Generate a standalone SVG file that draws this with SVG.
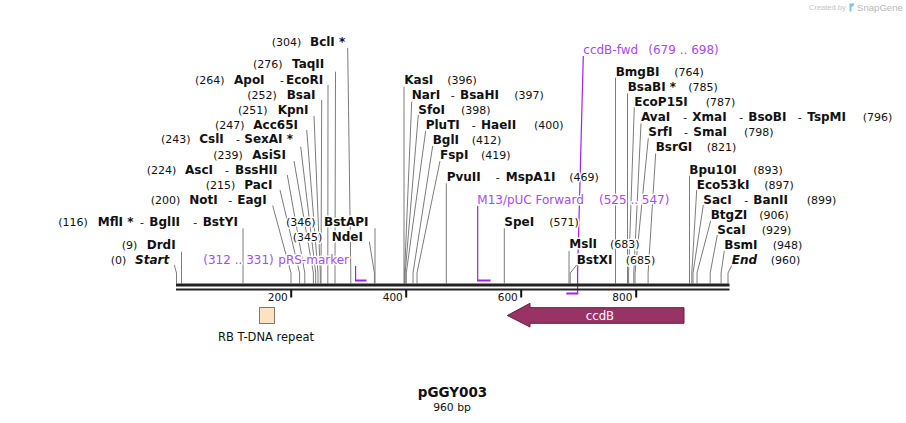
<svg xmlns="http://www.w3.org/2000/svg" width="906" height="423" viewBox="0 0 906 423">
<style>
text{font-family:"DejaVu Sans",Verdana,sans-serif;fill:#111}
.h{stroke:#fff;stroke-width:3;stroke-linejoin:round;paint-order:stroke}
.n{font-size:11px}
.b{font-size:12px;font-weight:bold}
.bi{font-size:12px;font-weight:bold;font-style:italic}
.d{font-size:11px}
.p{font-size:12px;fill:#a54cf0}
.ld{fill:none;stroke:#7c7c7c;stroke-width:1}
.pl{fill:none;stroke:#a020f0;stroke-width:2}
.pv{fill:none;stroke:#a020f0;stroke-width:1.2}
.tk{font-size:10.5px;text-anchor:end;fill:#111}
</style>
<rect width="906" height="423" fill="#fff"/>
<g id="watermark">
<text x="809" y="10" style="font-family:'Liberation Sans',Arial,sans-serif;font-size:7.5px;fill:#c4c4c4">Created by</text>
<path d="M849.5,3.5 h5 l-1.5,3 h-1.5 v5 h-2 z" fill="#7cc0ee"/>
<text x="857" y="11" style="font-family:'Liberation Sans',Arial,sans-serif;font-size:9.6px;fill:#b8b8b8">SnapGene</text>
</g>
<g id="connectors">
<polyline class="ld" points="347.7,48 350.8,273 350.8,283.5"/>
<polyline class="ld" points="335.5,71.7 335,273 335,283.5"/>
<polyline class="ld" points="328,85 327.8,283.5"/>
<polyline class="ld" points="321.7,100 321,273 321,283.5"/>
<polyline class="ld" points="314,116 320.3,273 320.3,283.5"/>
<polyline class="ld" points="306.7,130 318,273 318,283.5"/>
<polyline class="ld" points="300.7,146.7 315.7,273 315.7,283.5"/>
<polyline class="ld" points="294,161 313.4,273 313.4,283.5"/>
<polyline class="ld" points="287.3,175 304.8,273 304.8,283.5"/>
<polyline class="ld" points="280,190 299.6,273 299.6,283.5"/>
<polyline class="ld" points="272.7,205.7 291,273 291,283.5"/>
<polyline class="ld" points="243,228.3 243,283.5"/>
<polyline class="ld" points="181.5,251.7 181.5,283.5"/>
<polyline class="ld" points="174.3,265 176.5,273 176.5,283.5"/>
<polyline class="ld" points="375,228.3 375,283.5"/>
<polyline class="ld" points="369.3,241.7 374.4,273 374.4,283.5"/>
<polyline class="ld" points="404,86.7 404,283.5"/>
<polyline class="ld" points="411.7,101.7 404.6,273 404.6,283.5"/>
<polyline class="ld" points="418.3,115 405.2,273 405.2,283.5"/>
<polyline class="ld" points="425.7,130.7 406.3,273 406.3,283.5"/>
<polyline class="ld" points="432.7,146 413,273 413,283.5"/>
<polyline class="ld" points="440,161 417,273 417,283.5"/>
<polyline class="ld" points="446.3,183.3 446.3,283.5"/>
<polyline class="ld" points="504.3,228.3 504.3,283.5"/>
<polyline class="ld" points="569,251 569,283.5"/>
<polyline class="ld" points="576.7,265 570.2,273 570.2,283.5"/>
<polyline class="ld" points="615.5,77.7 615.5,283.5"/>
<polyline class="ld" points="627.5,93.3 627.5,283.5"/>
<polyline class="ld" points="634.3,107.3 628.6,273 628.6,283.5"/>
<polyline class="ld" points="641,123.3 633.8,273 633.8,283.5"/>
<polyline class="ld" points="648.3,138.3 635,273 635,283.5"/>
<polyline class="ld" points="655.7,153.3 648.1,273 648.1,283.5"/>
<polyline class="ld" points="689.5,175.7 689.5,283.5"/>
<polyline class="ld" points="696.7,190 691.8,273 691.8,283.5"/>
<polyline class="ld" points="703.3,205 693,273 693,283.5"/>
<polyline class="ld" points="710.7,220.7 697,273 697,283.5"/>
<polyline class="ld" points="717.3,235 710.2,273 710.2,283.5"/>
<polyline class="ld" points="724.3,250.7 721.1,273 721.1,283.5"/>
<polyline class="ld" points="731.7,265.7 728,273 728,283.5"/>
<polyline class="pv" points="355.6,266 355.6,280.5"/>
<line class="pl" x1="355" y1="280.5" x2="366.5" y2="280.5"/>
<polyline class="pv" points="477.7,206 477.7,280.5"/>
<line class="pl" x1="477.1" y1="280.5" x2="490.5" y2="280.5"/>
<polyline class="pv" points="583.3,56 577.6,272 577.6,293.5"/>
<line class="pl" x1="566.3" y1="293.5" x2="578.2" y2="293.5"/>
</g>
<g id="axis">
<rect x="176" y="283.5" width="553.5" height="3" fill="#222"/>
<rect x="176" y="288.5" width="553.5" height="2" fill="#222"/>
<rect x="290.2" y="290" width="2" height="7.5" fill="#111"/>
<rect x="405.2" y="290" width="2" height="7.5" fill="#111"/>
<rect x="520.2" y="290" width="2" height="7.5" fill="#111"/>
<rect x="635.2" y="290" width="2" height="7.5" fill="#111"/>
<text class="tk" x="287.8" y="300.5">200</text>
<text class="tk" x="402.8" y="300.5">400</text>
<text class="tk" x="517.8" y="300.5">600</text>
<text class="tk" x="632.4" y="300.5">800</text>
</g>
<g id="BclI"><text class="h" y="46"><tspan class="n" x="271.7">(304)</tspan><tspan class="b" x="310">BclI *</tspan></text></g>
<g id="TaqII"><text class="h" y="68"><tspan class="n" x="253">(276)</tspan><tspan class="b" x="292">TaqII</tspan></text></g>
<g id="ApoI"><text class="h" y="84"><tspan class="n" x="195">(264)</tspan><tspan class="b" x="234">ApoI</tspan><tspan class="d" x="280">-</tspan><tspan class="b" x="286">EcoRI</tspan></text></g>
<g id="BsaI"><text class="h" y="99"><tspan class="n" x="247.3">(252)</tspan><tspan class="b" x="286.7">BsaI</tspan></text></g>
<g id="KpnI"><text class="h" y="114"><tspan class="n" x="238">(251)</tspan><tspan class="b" x="277.7">KpnI</tspan></text></g>
<g id="Acc65I"><text class="h" y="128.5"><tspan class="n" x="215">(247)</tspan><tspan class="b" x="253.3">Acc65I</tspan></text></g>
<g id="CslI"><text class="h" y="143.3"><tspan class="n" x="161">(243)</tspan><tspan class="b" x="199.3">CslI</tspan><tspan class="d" x="236">-</tspan><tspan class="b" x="244.3">SexAI *</tspan></text></g>
<g id="AsiSI"><text class="h" y="159"><tspan class="n" x="213.3">(239)</tspan><tspan class="b" x="252.3">AsiSI</tspan></text></g>
<g id="AscI"><text class="h" y="174"><tspan class="n" x="146.7">(224)</tspan><tspan class="b" x="185">AscI</tspan><tspan class="d" x="225">-</tspan><tspan class="b" x="235">BssHII</tspan></text></g>
<g id="PacI"><text class="h" y="189"><tspan class="n" x="205.7">(215)</tspan><tspan class="b" x="244.3">PacI</tspan></text></g>
<g id="NotI"><text class="h" y="204"><tspan class="n" x="150.7">(200)</tspan><tspan class="b" x="189.3">NotI</tspan><tspan class="d" x="228.3">-</tspan><tspan class="b" x="237.3">EagI</tspan></text></g>
<g id="MflI"><text class="h" y="225.7"><tspan class="n" x="58.3">(116)</tspan><tspan class="b" x="97.7">MflI *</tspan><tspan class="d" x="140">-</tspan><tspan class="b" x="149.3">BglII</tspan><tspan class="d" x="193.3">-</tspan><tspan class="b" x="202.7">BstYI</tspan></text></g>
<g id="DrdI"><text class="h" y="249"><tspan class="n" x="121.7">(9)</tspan><tspan class="b" x="146.7">DrdI</tspan></text></g>
<g id="Start"><text class="h" y="263.5"><tspan class="n" x="110.7">(0)</tspan><tspan class="bi" x="135">Start</tspan></text></g>
<g id="pRS-marker"><text y="263.5" class="p h"><tspan x="203.3">(312 .. 331)</tspan><tspan x="278.3">pRS-marker</tspan></text></g>
<g id="BstAPI"><text class="h" y="225.7"><tspan class="n" x="286">(346)</tspan><tspan class="b" x="324">BstAPI</tspan></text></g>
<g id="NdeI"><text class="h" y="240.7"><tspan class="n" x="292.7">(345)</tspan><tspan class="b" x="331.7">NdeI</tspan></text></g>
<g id="KasI"><text class="h" y="84"><tspan class="b" x="404.3">KasI</tspan><tspan class="n" x="447.3">(396)</tspan></text></g>
<g id="NarI"><text class="h" y="99"><tspan class="b" x="411.7">NarI</tspan><tspan class="d" x="450.7">-</tspan><tspan class="b" x="460">BsaHI</tspan><tspan class="n" x="514.3">(397)</tspan></text></g>
<g id="SfoI"><text class="h" y="113.5"><tspan class="b" x="418.3">SfoI</tspan><tspan class="n" x="461">(398)</tspan></text></g>
<g id="PluTI"><text class="h" y="129"><tspan class="b" x="425.7">PluTI</tspan><tspan class="d" x="471.7">-</tspan><tspan class="b" x="481">HaeII</tspan><tspan class="n" x="534">(400)</tspan></text></g>
<g id="BglI"><text class="h" y="144"><tspan class="b" x="432.7">BglI</tspan><tspan class="n" x="471.7">(412)</tspan></text></g>
<g id="FspI"><text class="h" y="158.5"><tspan class="b" x="440">FspI</tspan><tspan class="n" x="481">(419)</tspan></text></g>
<g id="PvuII"><text class="h" y="181.3"><tspan class="b" x="446.7">PvuII</tspan><tspan class="d" x="495.7">-</tspan><tspan class="b" x="505.7">MspA1I</tspan><tspan class="n" x="569.3">(469)</tspan></text></g>
<g id="M13-pUC-Forward"><text y="204" class="p h"><tspan x="477.3">M13/pUC Forward</tspan><tspan x="599">(525 .. 547)</tspan></text></g>
<g id="SpeI"><text class="h" y="225.7"><tspan class="b" x="504.3">SpeI</tspan><tspan class="n" x="549.3">(571)</tspan></text></g>
<g id="MslI"><text class="h" y="248.3"><tspan class="b" x="569.3">MslI</tspan><tspan class="n" x="610">(683)</tspan></text></g>
<g id="BstXI"><text class="h" y="264"><tspan class="b" x="576.7">BstXI</tspan><tspan class="n" x="625.7">(685)</tspan></text></g>
<g id="ccdB-fwd"><text y="54" class="p h"><tspan x="583.3">ccdB-fwd</tspan><tspan x="648.3">(679 .. 698)</tspan></text></g>
<g id="BmgBI"><text class="h" y="75.7"><tspan class="b" x="615.7">BmgBI</tspan><tspan class="n" x="674.3">(764)</tspan></text></g>
<g id="BsaBI"><text class="h" y="90.7"><tspan class="b" x="627.7">BsaBI *</tspan><tspan class="n" x="688.3">(785)</tspan></text></g>
<g id="EcoP15I"><text class="h" y="105.7"><tspan class="b" x="634.3">EcoP15I</tspan><tspan class="n" x="705.7">(787)</tspan></text></g>
<g id="AvaI"><text class="h" y="120.7"><tspan class="b" x="641">AvaI</tspan><tspan class="d" x="683.3">-</tspan><tspan class="b" x="692.3">XmaI</tspan><tspan class="d" x="739.3">-</tspan><tspan class="b" x="748.3">BsoBI</tspan><tspan class="d" x="797.7">-</tspan><tspan class="b" x="807.3">TspMI</tspan><tspan class="n" x="862.7">(796)</tspan></text></g>
<g id="SrfI"><text class="h" y="135.7"><tspan class="b" x="648.3">SrfI</tspan><tspan class="d" x="684">-</tspan><tspan class="b" x="693.3">SmaI</tspan><tspan class="n" x="744">(798)</tspan></text></g>
<g id="BsrGI"><text class="h" y="150.7"><tspan class="b" x="655.7">BsrGI</tspan><tspan class="n" x="706.7">(821)</tspan></text></g>
<g id="Bpu10I"><text class="h" y="174"><tspan class="b" x="689.3">Bpu10I</tspan><tspan class="n" x="753.3">(893)</tspan></text></g>
<g id="Eco53kI"><text class="h" y="189"><tspan class="b" x="696.7">Eco53kI</tspan><tspan class="n" x="764.3">(897)</tspan></text></g>
<g id="SacI"><text class="h" y="204"><tspan class="b" x="703.3">SacI</tspan><tspan class="d" x="744.3">-</tspan><tspan class="b" x="753.3">BanII</tspan><tspan class="n" x="806.7">(899)</tspan></text></g>
<g id="BtgZI"><text class="h" y="219"><tspan class="b" x="710.7">BtgZI</tspan><tspan class="n" x="759.3">(906)</tspan></text></g>
<g id="ScaI"><text class="h" y="234"><tspan class="b" x="717.3">ScaI</tspan><tspan class="n" x="761.7">(929)</tspan></text></g>
<g id="BsmI"><text class="h" y="249"><tspan class="b" x="724.3">BsmI</tspan><tspan class="n" x="772.7">(948)</tspan></text></g>
<g id="End"><text class="h" y="264"><tspan class="bi" x="731.7">End</tspan><tspan class="n" x="770.7">(960)</tspan></text></g>
<g id="RB-T-DNA-repeat">
<rect x="259.5" y="307.5" width="15" height="16" fill="#fde3c4" stroke="#85776a" stroke-width="1"/>
<text x="266" y="340.5" text-anchor="middle" style="font-size:11.5px">RB T-DNA repeat</text>
</g>
<g id="ccdB">
<path d="M684,307.7 L530,307.7 L530,303.3 L507.3,315.5 L530,327 L530,323.3 L684,323.3 Z" fill="#993366" stroke="#5e2040" stroke-width="1"/>
<text x="600" y="319.5" text-anchor="middle" style="font-size:11.7px;fill:#fff">ccdB</text>
</g>
<g id="title">
<text x="452.5" y="397" text-anchor="middle" style="font-size:13.5px;font-weight:bold">pGGY003</text>
<text x="452" y="411" text-anchor="middle" style="font-size:10.8px">960 bp</text>
</g>
</svg>
